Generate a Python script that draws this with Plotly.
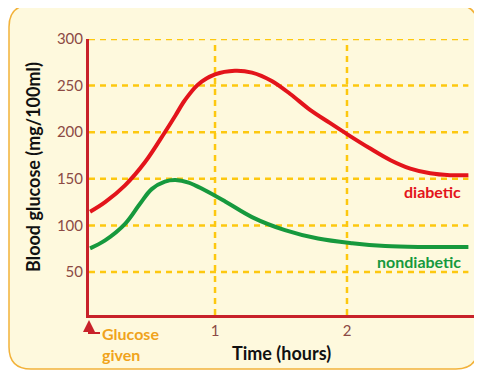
import plotly.graph_objects as go

# time (hours) and blood glucose (mg/100ml)
diabetic_t = [0.053, 0.167, 0.318, 0.47, 0.62, 0.70, 0.77, 0.87, 1.0, 1.15, 1.28, 1.43,
              1.57, 1.72, 1.87, 2.0, 2.17, 2.33, 2.48, 2.63, 2.78, 2.92]
diabetic_v = [114.7, 125, 143, 168, 200, 218, 234, 251, 262, 266, 264, 255,
              241, 224, 210, 198, 183, 170, 161, 156, 154, 154]

normal_t = [0.053, 0.167, 0.32, 0.43, 0.52, 0.62, 0.70, 0.80, 0.92, 1.08, 1.28, 1.53,
            1.78, 2.04, 2.29, 2.54, 2.92]
normal_v = [75.5, 84, 102, 123, 139, 147, 148.7, 146, 138, 125.5, 109, 95,
            86, 81, 78, 77, 77]

y_ticks = [50, 100, 150, 200, 250, 300]
x_ticks = [1, 2]

red = "#e3141b"
green = "#16993d"
grid = "#fdc80f"
axis_red = "#c8222a"
tick_col = "#8c4a44"
orange = "#f0a31b"

# the page body adds an 8px offset, so the figure is drawn 8px smaller
W, H = 474, 364
L, T, R, B = 81, 31, 7, 57
pw, ph = W - L - R, H - T - B


def px(x):
    return (x - 8 - L) / pw


def py(y):
    return (H - B - (y - 8)) / ph


fig = go.Figure()
fig.add_trace(go.Scatter(x=diabetic_t, y=diabetic_v, mode="lines",
                         line=dict(color=red, width=4, shape="spline", smoothing=1.0),
                         hoverinfo="skip"))
fig.add_trace(go.Scatter(x=normal_t, y=normal_v, mode="lines",
                         line=dict(color=green, width=4, shape="spline", smoothing=1.0),
                         hoverinfo="skip"))

# rounded background panel
x0, x1 = px(9), px(478)
y0, y1 = py(369), py(5)
rx, ry = 22 / pw, 22 / ph
path = (f"M {x0 + rx},{y1} L {x1 - rx},{y1} Q {x1},{y1} {x1},{y1 - ry} "
        f"L {x1},{y0 + ry} Q {x1},{y0} {x1 - rx},{y0} "
        f"L {x0 + rx},{y0} Q {x0},{y0} {x0},{y0 + ry} "
        f"L {x0},{y1 - ry} Q {x0},{y1} {x0 + rx},{y1} Z")
fig.add_shape(type="path", path=path, xref="paper", yref="paper",
              fillcolor="#fef9dd", line=dict(color="#f2b23a", width=1.5), layer="below")

# dashed grid
for v in y_ticks:
    fig.add_shape(type="line", x0=0.045, x1=2.92, y0=v, y1=v, xref="x", yref="y",
                  line=dict(color=grid, width=2.5, dash="6px,5px"), layer="below")
for t in x_ticks:
    fig.add_shape(type="line", x0=t, x1=t, y0=4, y1=300, xref="x", yref="y",
                  line=dict(color=grid, width=2.5, dash="6px,5px"), layer="below")


def label(x, y, text, size, color, xanchor="center", angle=0):
    fig.add_annotation(x=px(x), y=py(y), xref="paper", yref="paper", text=text,
                       showarrow=False, xanchor=xanchor, yanchor="middle", align="left",
                       textangle=angle,
                       font=dict(family="Lato", size=size, color=color, weight="bold"))


# "Glucose given" arrow
fig.add_shape(type="path", xref="paper", yref="paper",
              path=f"M 0,{py(325)} L 0,{py(333)} L {px(100)},{py(333)}",
              line=dict(color=axis_red, width=2))
fig.add_annotation(x=0, y=py(320), xref="paper", yref="paper", ax=0, ay=8,
                   showarrow=True, arrowhead=2, arrowsize=1.2, arrowwidth=2,
                   arrowcolor=axis_red, text="")
label(100, 344, "Glucose<br>given", 16, orange, xanchor="left")

label(463, 191, "diabetic", 16, red, xanchor="right")
label(463, 261, "nondiabetic", 16, green, xanchor="right")
label(33, 167, "Blood glucose (mg/100ml)", 18, "#111111", angle=-90)
label(281, 353, "Time (hours)", 18, "#111111")

fig.update_xaxes(range=[0.045, 2.97], tickvals=x_ticks, showgrid=False, zeroline=False,
                 showline=True, linecolor=axis_red, linewidth=3, ticks="",
                 tickfont=dict(family="Lato", size=15, color=tick_col))
fig.update_yaxes(range=[4, 300], tickvals=y_ticks, showgrid=False, zeroline=False,
                 showline=True, linecolor=axis_red, linewidth=3, ticks="",
                 tickfont=dict(family="Lato", size=15, color=tick_col))

fig.update_layout(width=W, height=H, margin=dict(l=L, r=R, t=T, b=B),
                  paper_bgcolor="white", plot_bgcolor="rgba(0,0,0,0)", showlegend=False)

fig.write_html("out.html")
